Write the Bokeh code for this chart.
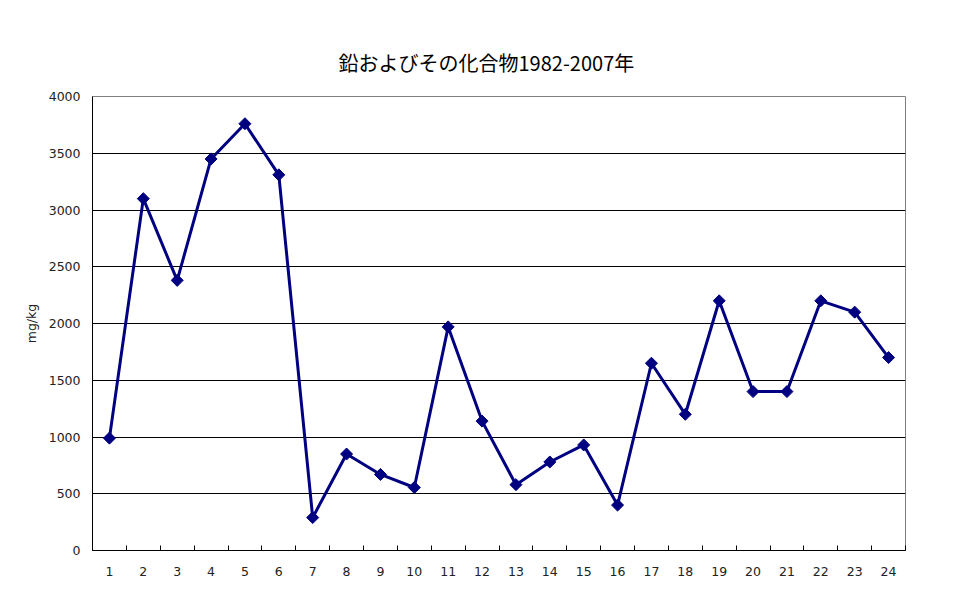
import math
from bokeh.plotting import figure
from bokeh.models import ColumnDataSource, FixedTicker, Range1d
from bokeh.embed import file_html
from bokeh.resources import INLINE

categories = list(range(1, 25))
values = [990, 3100, 2380, 3450, 3760, 3310, 290, 850, 670, 555, 1970, 1140,
          580, 780, 930, 400, 1650, 1200, 2200, 1400, 1400, 2200, 2100, 1700]
y_ticks = [0, 500, 1000, 1500, 2000, 2500, 3000, 3500, 4000]
title_text = "鉛およびその化合物1982-2007年"
y_label = "mg/kg"

FONT = "Noto Sans CJK JP"
NUMFONT = "DejaVu Sans"

src = ColumnDataSource(dict(x=categories, y=values))

p = figure(width=954, height=588, output_backend="svg", toolbar_location=None,
           x_range=Range1d(0.5, 24.5), y_range=Range1d(0, 4000),
           min_border_left=92, min_border_right=49, min_border_top=96, min_border_bottom=38,
           title=title_text)

p.title.align = "left"
p.title.offset = 246
p.title.text_font = FONT
p.title.text_font_size = "20px"
p.title.text_font_style = "normal"
p.title.text_color = "#000000"
p.title.standoff = 40

p.outline_line_color = "#808080"
p.outline_line_width = 1
p.background_fill_color = "white"
p.border_fill_color = "white"

# x axis
p.xaxis.ticker = FixedTicker(ticks=categories, minor_ticks=[c - 0.5 for c in categories] + [24.5])
p.xaxis.major_tick_out = 0
p.xaxis.major_tick_in = 0
p.xaxis.minor_tick_in = 5
p.xaxis.minor_tick_out = 0
p.xaxis.minor_tick_line_color = "black"
p.xaxis.axis_line_color = "black"
p.xaxis.major_label_standoff = 16
p.xaxis.major_label_text_font = NUMFONT
p.xaxis.major_label_text_font_size = "12.5px"
p.xaxis.major_label_text_color = "#222222"
p.xgrid.grid_line_color = None

# y axis
p.yaxis.ticker = FixedTicker(ticks=y_ticks, minor_ticks=[])
p.yaxis.major_tick_out = 0
p.yaxis.major_tick_in = 0
p.yaxis.axis_line_color = "black"
p.yaxis.major_label_standoff = 12
p.yaxis.major_label_text_font = NUMFONT
p.yaxis.major_label_text_font_size = "12.5px"
p.yaxis.major_label_text_color = "#222222"
p.yaxis.axis_label = y_label
p.yaxis.axis_label_text_font = NUMFONT
p.yaxis.axis_label_text_font_size = "12.5px"
p.yaxis.axis_label_text_font_style = "normal"
p.yaxis.axis_label_text_color = "#222222"
p.yaxis.axis_label_standoff = 7
p.ygrid.grid_line_color = "black"
p.ygrid.grid_line_width = 1

p.line("x", "y", source=src, line_color="#000080", line_width=3)
p.scatter("x", "y", source=src, marker="square", angle=math.pi / 4, size=8.5,
          fill_color="#000080", line_color="#000080")

open("out.html", "w").write(file_html(p, INLINE))
